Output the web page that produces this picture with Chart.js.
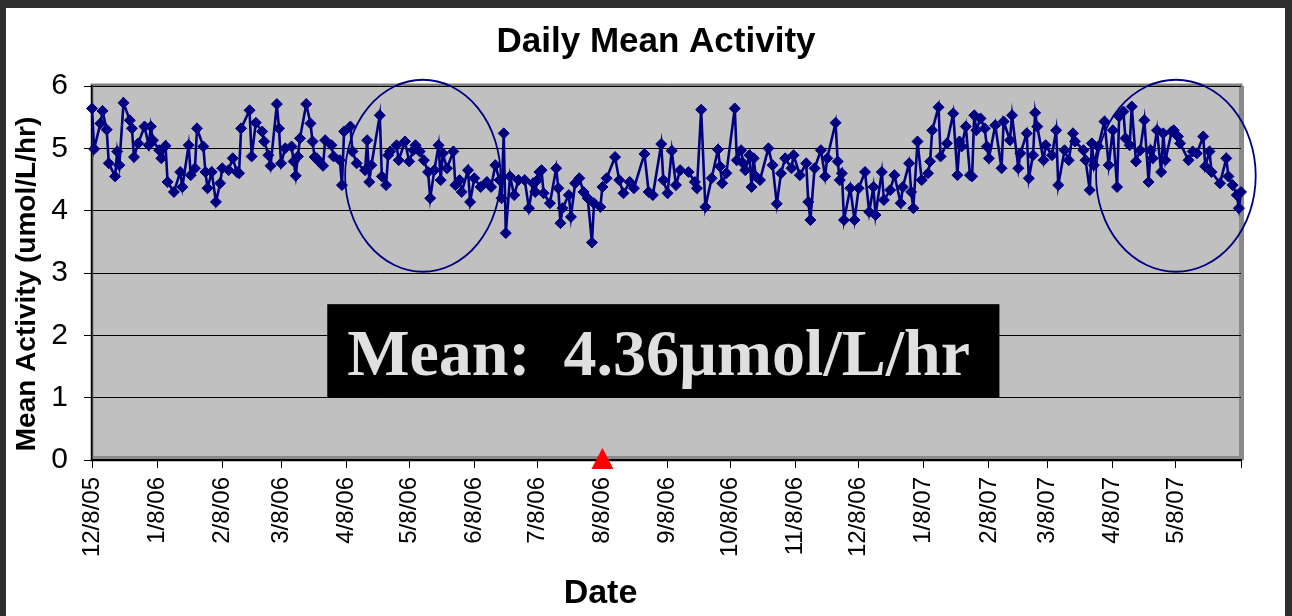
<!DOCTYPE html>
<html>
<head>
<meta charset="utf-8">
<script src="https://cdn.jsdelivr.net/npm/chart.js@4/dist/chart.umd.min.js"></script>
<style>
  body { margin: 0; background: #2e2e2e; width: 1292px; height: 616px; overflow: hidden; }
  #wrap { position: absolute; left: 6px; top: 8px; width: 1279px; height: 608px; background: #fff; }
</style>
</head>
<body>
<div id="wrap"><canvas id="chart" width="1279" height="608"></canvas></div>
<script>
'use strict';

// month labels on the date axis, plus where the axis stops
const tickLabels = ['12/8/05', '1/8/06', '2/8/06', '3/8/06', '4/8/06', '5/8/06', '6/8/06', '7/8/06', '8/8/06',
  '9/8/06', '10/8/06', '11/8/06', '12/8/06', '1/8/07', '2/8/07', '3/8/07', '4/8/07', '5/8/07'];
const axisEnd = '6/8/07';

// days after 12/8/05 for each reading
const dayOffsets = [
  0, 1, 4, 5, 7, 8, 11, 12, 13, 15,
  18, 19, 20, 22, 25, 27, 28, 29, 32, 33,
  35, 36, 39, 42, 43, 46, 47, 49, 50, 53,
  54, 55, 57, 59, 61, 62, 65, 67, 69, 70,
  71, 75, 76, 78, 81, 82, 84, 85, 88, 89,
  90, 92, 95, 96, 97, 98, 99, 102, 104, 105,
  106, 107, 108, 110, 111, 114, 115, 118, 119, 120,
  123, 124, 126, 130, 131, 132, 133, 137, 138, 140,
  141, 142, 145, 146, 149, 151, 153, 154, 156, 158,
  160, 161, 163, 165, 166, 167, 169, 172, 173, 175,
  176, 179, 180, 182, 185, 188, 190, 192, 194, 195,
  196, 197, 199, 201, 203, 206, 208, 210, 211, 212,
  213, 214, 215, 218, 221, 222, 223, 224, 227, 228,
  230, 232, 234, 236, 238, 239, 242, 243, 245, 249,
  251, 253, 256, 258, 263, 265, 267, 271, 272, 274,
  276, 278, 280, 284, 287, 288, 290, 292, 295, 298,
  299, 300, 302, 306, 307, 309, 310, 311, 313, 314,
  315, 316, 318, 322, 324, 326, 328, 330, 333, 334,
  337, 340, 341, 342, 344, 347, 349, 350, 354, 355,
  356, 357, 358, 361, 363, 365, 368, 370, 372, 373,
  376, 377, 380, 382, 385, 386, 389, 390, 391, 393,
  395, 398, 399, 400, 403, 404, 407, 410, 412, 413,
  414, 416, 418, 419, 420, 421, 423, 425, 426, 427,
  430, 433, 434, 437, 438, 441, 442, 445, 446, 448,
  449, 450, 453, 454, 457, 459, 460, 463, 465, 467,
  468, 472, 473, 475, 476, 477, 479, 482, 484, 486,
  488, 489, 491, 492, 494, 495, 497, 499, 501, 503,
  504, 505, 507, 509, 510, 511, 514, 515, 517, 518,
  522, 524, 526, 529, 530, 532, 533, 537, 540, 541,
  543, 545, 546, 547
];

// daily mean activity, umol/L/hr
const activity = [
  5.64, 4.99, 5.40, 5.60, 5.30, 4.76, 4.55, 4.95, 4.73, 5.73,
  5.45, 5.32, 4.86, 5.08, 5.35, 5.05, 5.35, 5.13, 4.97, 4.84,
  5.04, 4.46, 4.30, 4.62, 4.38, 5.05, 4.57, 4.68, 5.32, 5.03,
  4.62, 4.36, 4.62, 4.14, 4.44, 4.68, 4.65, 4.84, 4.62, 4.60,
  5.32, 5.61, 4.87, 5.41, 5.27, 5.11, 4.89, 4.72, 5.71, 5.32,
  4.76, 5.00, 5.03, 4.79, 4.56, 4.87, 5.16, 5.71, 5.40, 5.11,
  4.86, 4.84, 4.79, 4.72, 5.13, 5.05, 4.87, 4.81, 4.41, 5.27,
  5.35, 4.95, 4.76, 4.65, 5.13, 4.46, 4.73, 5.53, 4.55, 4.41,
  4.89, 4.95, 5.05, 4.81, 5.11, 4.79, 4.97, 5.05, 4.95, 4.81,
  4.62, 4.20, 4.65, 5.05, 4.49, 4.92, 4.68, 4.95, 4.41, 4.49,
  4.30, 4.65, 4.14, 4.52, 4.38, 4.46, 4.38, 4.73, 4.49, 4.20,
  5.24, 3.64, 4.55, 4.25, 4.49, 4.49, 4.04, 4.44, 4.30, 4.49,
  4.62, 4.65, 4.28, 4.12, 4.68, 4.36, 3.80, 4.04, 4.25, 3.90,
  4.44, 4.52, 4.30, 4.20, 3.49, 4.12, 4.06, 4.38, 4.52, 4.86,
  4.49, 4.28, 4.46, 4.36, 4.91, 4.30, 4.25, 5.07, 4.49, 4.28,
  4.96, 4.41, 4.65, 4.62, 4.46, 4.36, 5.62, 4.06, 4.52, 4.98,
  4.71, 4.44, 4.60, 5.64, 4.81, 4.97, 4.76, 4.65, 4.89, 4.38,
  4.84, 4.55, 4.49, 5.00, 4.73, 4.11, 4.60, 4.84, 4.68, 4.89,
  4.57, 4.76, 4.14, 3.85, 4.68, 4.97, 4.55, 4.84, 5.41, 4.79,
  4.49, 4.60, 3.85, 4.36, 3.85, 4.36, 4.62, 3.98, 4.38, 3.93,
  4.62, 4.17, 4.33, 4.57, 4.12, 4.38, 4.76, 4.30, 4.04, 5.11,
  4.49, 4.60, 4.79, 5.29, 5.66, 4.87, 5.08, 5.56, 4.57, 5.11,
  5.03, 5.35, 4.57, 4.55, 5.53, 5.29, 5.48, 5.32, 5.03, 4.84,
  5.37, 4.68, 5.43, 5.13, 5.53, 4.68, 4.92, 5.24, 4.52, 4.89,
  5.57, 5.35, 4.81, 5.05, 4.89, 5.29, 4.41, 4.97, 4.81, 5.24,
  5.11, 4.97, 4.81, 4.33, 5.08, 4.73, 5.03, 5.43, 4.73, 5.29,
  4.38, 5.51, 5.59, 5.16, 5.05, 5.67, 4.79, 4.97, 5.45, 4.46,
  4.97, 4.84, 5.29, 4.62, 5.24, 4.81, 5.27, 5.29, 5.19, 5.08,
  4.81, 4.95, 4.92, 5.19, 4.71, 4.95, 4.62, 4.44, 4.84, 4.55,
  4.41, 4.25, 4.04, 4.30
];

const yTicks = [0, 1, 2, 3, 4, 5, 6];

// call-outs drawn on top of the plot (data units: days, umol/L/hr)
const meanText = 'Mean:  4.36\u00b5mol/L/hr';
const meanBox = { x0: 112, x1: 432, y0: 2.5, y1: 1.0 };
const circles = [
  { day: 157.5, value: 4.56, rxDays: 37, ryValue: 1.54 },
  { day: 516, value: 4.56, rxDays: 38, ryValue: 1.54 }
];
const markerDate = '8/8/06';

function dayOf(s) {
  const [m, d, y] = s.split('/').map(Number);
  return Math.round((Date.UTC(2000 + y, m - 1, d) - Date.UTC(2005, 11, 8)) / 86400000);
}

const tickDays = tickLabels.map(dayOf).concat([dayOf(axisEnd)]);
const points = dayOffsets.map((d, i) => ({ x: d, y: activity[i] }));

const sans = 'Liberation Sans, Arial, sans-serif';
Chart.defaults.font.family = sans;
Chart.defaults.color = '#000';

const plotFrame = {
  id: 'plotFrame',
  beforeDraw(chart) {
    const { ctx, chartArea: a } = chart;
    ctx.save();
    ctx.fillStyle = '#c0c0c0';
    ctx.fillRect(a.left, a.top, a.right - a.left, a.bottom - a.top);
    ctx.strokeStyle = '#808080';
    ctx.lineWidth = 3;
    ctx.strokeRect(a.left, a.top - 1, a.right - a.left, a.bottom - a.top + 1);
    ctx.fillStyle = '#8a8a8a';
    ctx.fillRect(a.right - 2, a.top, 5, a.bottom - a.top);
    ctx.fillRect(a.left, a.bottom - 4, a.right - a.left, 4);
    ctx.restore();
  }
};

const callouts = {
  id: 'callouts',
  afterDraw(chart) {
    const { ctx, chartArea: a } = chart;
    const xs = chart.scales.x, ys = chart.scales.y;
    ctx.save();

    // titles
    ctx.fillStyle = '#000';
    ctx.textAlign = 'center';
    ctx.textBaseline = 'middle';
    ctx.font = 'bold 35px ' + sans;
    ctx.fillText('Daily Mean Activity', 650, 34);
    ctx.font = 'bold 34px ' + sans;
    ctx.fillText('Date', (a.left + a.right) / 2 - 66, 586);
    ctx.save();
    ctx.translate(21, (a.top + a.bottom) / 2 + 11);
    ctx.rotate(-Math.PI / 2);
    ctx.font = 'bold 28px ' + sans;
    ctx.fillText('Mean Activity (umol/L/hr)', 0, 0);
    ctx.restore();

    // ellipses
    ctx.strokeStyle = '#000080';
    ctx.lineWidth = 1.8;
    circles.forEach(c => {
      const cx = xs.getPixelForValue(c.day), cy = ys.getPixelForValue(c.value);
      const rx = xs.getPixelForValue(c.day + c.rxDays) - cx;
      const ry = cy - ys.getPixelForValue(c.value + c.ryValue);
      ctx.beginPath();
      ctx.ellipse(cx, cy, rx, ry, 0, 0, Math.PI * 2);
      ctx.stroke();
    });

    // mean box
    const bx0 = xs.getPixelForValue(meanBox.x0), bx1 = xs.getPixelForValue(meanBox.x1);
    const by0 = ys.getPixelForValue(meanBox.y0), by1 = ys.getPixelForValue(meanBox.y1);
    ctx.fillStyle = '#000';
    ctx.fillRect(bx0, by0, bx1 - bx0, by1 - by0);
    ctx.fillStyle = '#e0e0e0';
    ctx.font = 'bold 66px Liberation Serif, Times New Roman, serif';
    ctx.textAlign = 'left';
    ctx.textBaseline = 'alphabetic';
    ctx.fillText(meanText, bx0 + 20, by0 + 71);

    // red marker on the date axis
    const mx = xs.getPixelForValue(dayOf(markerDate)), my = ys.getPixelForValue(0);
    ctx.fillStyle = '#ff0000';
    ctx.beginPath();
    ctx.moveTo(mx, my - 12);
    ctx.lineTo(mx + 11, my + 9);
    ctx.lineTo(mx - 11, my + 9);
    ctx.closePath();
    ctx.fill();

    ctx.restore();
  }
};

new Chart(document.getElementById('chart'), {
  type: 'line',
  data: {
    datasets: [{
      label: 'Daily Mean Activity',
      data: points,
      borderColor: '#000080',
      backgroundColor: '#000080',
      borderWidth: 2.6,
      pointStyle: 'rectRot',
      pointRadius: 5.5,
      pointBorderWidth: 1,
      tension: 0,
      clip: false
    }]
  },
  options: {
    responsive: false,
    animation: false,
    events: [],
    layout: { padding: { left: 0, right: 44, top: 78, bottom: 0 } },
    plugins: {
      legend: { display: false },
      tooltip: { enabled: false },
      title: { display: false }
    },
    scales: {
      x: {
        type: 'linear',
        min: 0,
        max: dayOf(axisEnd),
        afterBuildTicks: s => { s.ticks = tickDays.map(v => ({ value: v })); },
        afterFit: s => { s.height = 156; },
        ticks: {
          autoSkip: false,
          minRotation: 90,
          maxRotation: 90,
          padding: 9,
          font: { size: 24 },
          callback: (v, i) => tickLabels[i] || ''
        },
        grid: { drawOnChartArea: false, drawTicks: true, tickLength: 8, color: '#000' },
        border: { display: true, color: '#000', width: 2 }
      },
      y: {
        min: 0,
        max: 6,
        afterBuildTicks: s => { s.ticks = yTicks.map(v => ({ value: v })); },
        afterFit: s => { s.width = 86; },
        ticks: { padding: 16, font: { size: 30 } },
        grid: { color: '#000', lineWidth: 1, tickLength: 8 },
        border: { display: true, color: '#000', width: 1.5 }
      }
    }
  },
  plugins: [plotFrame, callouts]
});
</script>
</body>
</html>
